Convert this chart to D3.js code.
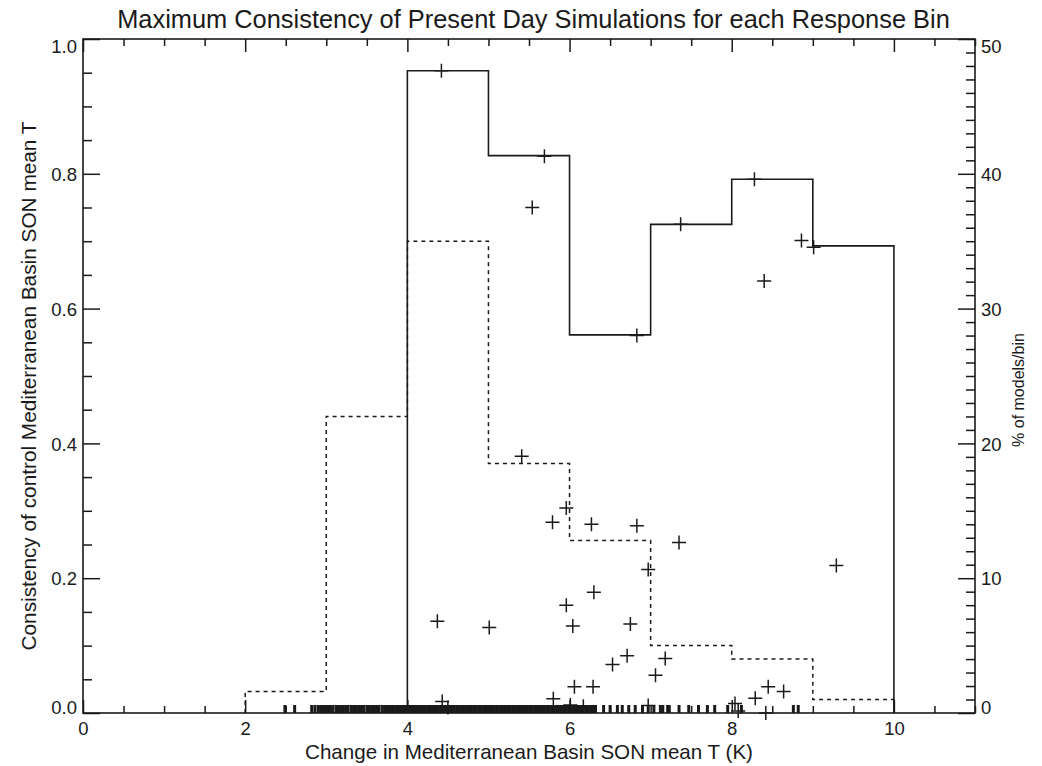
<!DOCTYPE html>
<html>
<head>
<meta charset="utf-8">
<script src="https://cdn.jsdelivr.net/npm/d3@7"></script>
<style>
  html, body { margin: 0; padding: 0; background: #fff; }
  svg { display: block; font-family: "Liberation Sans", Arial, Helvetica, sans-serif; }
</style>
</head>
<body>
<svg id="chart" width="1042" height="766"></svg>
<script>
// ---------------- data ----------------
const titleText = "Maximum Consistency of Present Day Simulations for each Response Bin";
const xTitle = "Change in Mediterranean Basin SON mean T (K)";
const yLeftTitle = "Consistency of control Mediterranean Basin SON mean T";
const yRightTitle = "% of models/bin";

const xMajorTicks = [0, 2, 4, 6, 8, 10];
const yLeftTicks = [0.0, 0.2, 0.4, 0.6, 0.8, 1.0];
const yRightTicks = [0, 10, 20, 30, 40, 50];

// solid histogram: max consistency per response bin (left axis)
const consEdges = [4, 5, 6, 7, 8, 9, 10];
const maxConsistency = [0.953, 0.827, 0.561, 0.725, 0.792, 0.693];

// dashed histogram: % of models per bin (right axis)
const pctEdges = [2, 3, 4, 5, 6, 7, 8, 9, 10];
const pctModels = [1.6, 22.0, 35.0, 18.5, 12.8, 5.0, 4.0, 1.0];

// individual simulations: [change (K), consistency]
const simX = [4.42, 5.69, 5.54, 6.83, 7.37, 8.28, 8.86, 9.01, 8.40, 5.41, 5.96, 5.79, 6.27, 6.83,
              7.35, 6.97, 9.29, 6.30, 5.96, 4.37, 5.01, 6.04, 6.75, 6.53, 6.71, 7.18, 7.06, 6.06,
              6.29, 5.80, 8.04, 8.08, 8.29, 8.45, 8.64, 8.42, 6.97, 6.01, 6.17, 4.43, 4.50];
const simY = [0.953, 0.826, 0.750, 0.560, 0.725, 0.792, 0.701, 0.691, 0.641, 0.381, 0.304, 0.283, 0.280, 0.278,
              0.253, 0.213, 0.219, 0.179, 0.160, 0.136, 0.127, 0.129, 0.132, 0.072, 0.085, 0.081, 0.056, 0.039,
              0.039, 0.021, 0.014, 0.003, 0.022, 0.039, 0.032, 0.000, 0.011, 0.012, 0.010, 0.017, 0.008];

// rug of all model responses (K)
const rugX = [2.49, 2.61, 2.82, 2.86, 2.90, 2.93,
  2.96, 2.99, 3.02, 3.05, 3.08, 3.12, 3.15, 3.18, 3.21, 3.24, 3.27, 3.31, 3.34, 3.37, 3.40, 3.43,
  3.46, 3.50, 3.53, 3.56, 3.59, 3.62, 3.65, 3.69, 3.72, 3.75, 3.78, 3.81, 3.84, 3.87, 3.90, 3.92,
  3.94, 3.96, 3.98, 4.00, 4.02, 4.04, 4.06, 4.08, 4.10, 4.12, 4.14, 4.16, 4.18, 4.20, 4.22, 4.25,
  4.28, 4.31, 4.34, 4.37, 4.40, 4.43, 4.46, 4.49, 4.52, 4.55, 4.58, 4.61, 4.64, 4.67, 4.70, 4.73,
  4.76, 4.79, 4.82, 4.85, 4.88, 4.91, 4.94, 4.97, 5.00, 5.03, 5.06, 5.09, 5.12, 5.15, 5.18, 5.21,
  5.24, 5.27, 5.30, 5.33, 5.36, 5.39, 5.42, 5.45, 5.48, 5.51, 5.54, 5.57, 5.60, 5.63, 5.66, 5.69,
  5.72, 5.75, 5.78, 5.81, 5.84, 5.87, 5.90, 5.93, 5.96, 5.99, 6.02, 6.05, 6.08, 6.11, 6.14, 6.17,
  6.20, 6.23, 6.26, 6.29, 6.32,
  6.42, 6.50, 6.59, 6.65, 6.73, 6.81, 6.90, 6.97, 7.04, 7.12, 7.15, 7.21, 7.23, 7.35, 7.47, 7.59,
  7.70, 7.79, 7.95, 8.12, 8.76, 8.82];

// ---------------- layout ----------------
const svg = d3.select("#chart");
const L = 83, R = 975, T = 39, B = 713;
const ink = "#1a1a1a";

const x = d3.scaleLinear().domain([0, 11]).range([L, R]);
const yL = d3.scaleLinear().domain([0, 1]).range([B, T]);
const yR = d3.scaleLinear().domain([0, 50]).range([B, T]);

function styleAxis(g) {
  g.select(".domain").remove();
  g.selectAll(".tick line").attr("stroke", ink).attr("stroke-width", 1.5);
  g.selectAll(".tick text").attr("fill", ink).attr("font-size", 18.5)
    .attr("font-family", "'Liberation Sans', Arial, sans-serif");
}
// end labels of a y axis are pulled inside the axis extent (IDL style)
function yLabelShift(g, n) {
  g.selectAll(".tick text").attr("dy", (d, i) => i === 0 ? "0.02em" : (i === n - 1 ? "0.72em" : "0.36em"));
}

// minor ticks
const xMinor = d3.range(0, 11.001, 0.5).filter(v => Math.abs(v / 2 - Math.round(v / 2)) > 1e-6);
const yLMinor = d3.range(0, 1.0001, 0.05).map(v => +v.toFixed(2)).filter(v => Math.abs(v * 5 - Math.round(v * 5)) > 1e-6);
const yRMinor = d3.range(0, 51, 1).filter(v => v % 10 !== 0);

// bottom axis
svg.append("g").attr("transform", `translate(0,${B})`)
  .call(d3.axisBottom(x).tickValues(xMajorTicks).tickSize(-13).tickPadding(9).tickFormat(d3.format("d")))
  .call(styleAxis);
svg.append("g").attr("transform", `translate(0,${B})`)
  .call(d3.axisBottom(x).tickValues(xMinor).tickSize(-7).tickFormat(""))
  .call(styleAxis);
// top axis
svg.append("g").attr("transform", `translate(0,${T})`)
  .call(d3.axisTop(x).tickValues(xMajorTicks).tickSize(-13).tickFormat(""))
  .call(styleAxis);
svg.append("g").attr("transform", `translate(0,${T})`)
  .call(d3.axisTop(x).tickValues(xMinor).tickSize(-7).tickFormat(""))
  .call(styleAxis);
// left axis
const gl = svg.append("g").attr("transform", `translate(${L},0)`)
  .call(d3.axisLeft(yL).tickValues(yLeftTicks).tickSize(-17).tickPadding(6).tickFormat(d3.format(".1f")))
  .call(styleAxis);
yLabelShift(gl, yLeftTicks.length);
svg.append("g").attr("transform", `translate(${L},0)`)
  .call(d3.axisLeft(yL).tickValues(yLMinor).tickSize(-9).tickFormat(""))
  .call(styleAxis);
// right axis
const gr = svg.append("g").attr("transform", `translate(${R},0)`)
  .call(d3.axisRight(yR).tickValues(yRightTicks).tickSize(-17).tickPadding(6).tickFormat(d3.format("d")))
  .call(styleAxis);
yLabelShift(gr, yRightTicks.length);
svg.append("g").attr("transform", `translate(${R},0)`)
  .call(d3.axisRight(yR).tickValues(yRMinor).tickSize(-9).tickFormat(""))
  .call(styleAxis);

// rug of model responses
svg.append("g").selectAll("line").data(rugX).join("line")
  .attr("x1", d => x(d)).attr("x2", d => x(d))
  .attr("y1", yL(0)).attr("y2", yL(0) - 8)
  .attr("stroke", ink).attr("stroke-width", 3);

// step path helper
function stepPath(edges, vals, xs, ys) {
  const p = d3.path();
  p.moveTo(xs(edges[0]), ys(0));
  vals.forEach((v, i) => {
    p.lineTo(xs(edges[i]), ys(v));
    p.lineTo(xs(edges[i + 1]), ys(v));
  });
  p.lineTo(xs(edges[edges.length - 1]), ys(0));
  return p.toString();
}

// dashed histogram (% of models)
svg.append("path")
  .attr("d", stepPath(pctEdges, pctModels, x, yR))
  .attr("fill", "none").attr("stroke", ink).attr("stroke-width", 1.5)
  .attr("stroke-dasharray", "4,4");

// solid histogram (max consistency)
svg.append("path")
  .attr("d", stepPath(consEdges, maxConsistency, x, yL))
  .attr("fill", "none").attr("stroke", ink).attr("stroke-width", 1.6);

// plus markers
const sims = simX.map((d, i) => [d, simY[i]]);
svg.append("g").selectAll("path").data(sims).join("path")
  .attr("transform", d => `translate(${x(d[0])},${yL(d[1])})`)
  .attr("d", "M-7,0H7M0,-7V7")
  .attr("stroke", ink).attr("stroke-width", 1.5).attr("fill", "none");

// frame
svg.append("rect").attr("x", L).attr("y", T).attr("width", R - L).attr("height", B - T)
  .attr("fill", "none").attr("stroke", ink).attr("stroke-width", 1.6);

// titles
svg.append("text").attr("x", 533.5).attr("y", 28).attr("text-anchor", "middle")
  .attr("font-size", 25.4).attr("fill", ink).text(titleText);
svg.append("text").attr("x", (L + R) / 2).attr("y", 759).attr("text-anchor", "middle")
  .attr("font-size", 20.6).attr("fill", ink).text(xTitle);
svg.append("text").attr("transform", `translate(36,386) rotate(-90)`)
  .attr("text-anchor", "middle").attr("font-size", 20.8).attr("fill", ink).text(yLeftTitle);
svg.append("text").attr("transform", `translate(1024,390) rotate(-90)`)
  .attr("text-anchor", "middle").attr("font-size", 16).attr("fill", ink).text(yRightTitle);
</script>
</body>
</html>
